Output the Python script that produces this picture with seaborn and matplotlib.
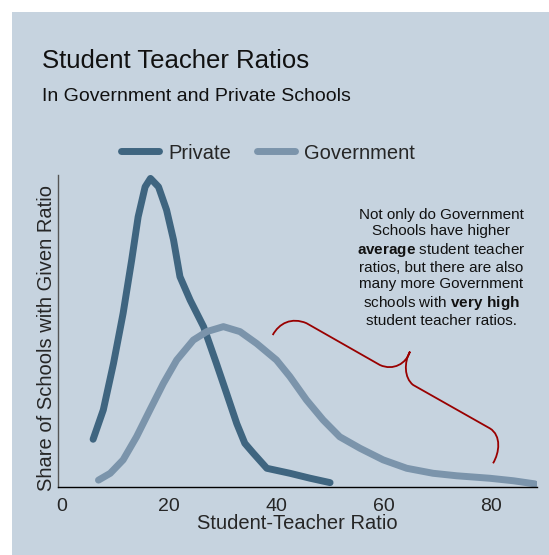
import numpy as np
import pandas as pd
import matplotlib
matplotlib.use("Agg")
import matplotlib.pyplot as plt
import seaborn as sns
from matplotlib.path import Path
from matplotlib.patches import PathPatch, Rectangle
from matplotlib.lines import Line2D

# ---- data ----
private_x = [5.8, 7.7, 9.6, 11.4, 13.0, 14.2, 15.5, 16.5, 18.0, 19.5, 20.8, 22.0,
             23.9, 26.4, 28.8, 30.7, 32.6, 34.1, 35.7, 38.2, 42.5, 46.3, 50.0]
private_y = [0.153, 0.247, 0.396, 0.557, 0.728, 0.866, 0.962, 0.989, 0.962, 0.888,
             0.792, 0.674, 0.599, 0.514, 0.396, 0.300, 0.203, 0.140, 0.108, 0.060,
             0.044, 0.028, 0.014]
gov_x = [6.8, 9.0, 11.4, 13.9, 16.4, 18.9, 21.4, 24.5, 27.0, 30.1, 33.2, 36.3,
         40.0, 42.5, 45.6, 48.7, 51.8, 55.6, 59.9, 64.3, 69.2, 73.6, 79.8, 84.2, 88.2]
gov_y = [0.022, 0.044, 0.087, 0.161, 0.247, 0.332, 0.407, 0.471, 0.498, 0.514,
         0.498, 0.460, 0.407, 0.354, 0.279, 0.215, 0.161, 0.124, 0.087, 0.060,
         0.044, 0.036, 0.028, 0.020, 0.010]
series_names = ["Private", "Government"]
series_colors = ["#3f6580", "#7b94ab"]
xticks = [0, 20, 40, 60, 80]

df = pd.concat([
    pd.DataFrame({"ratio": private_x, "share": private_y, "type": "Private"}),
    pd.DataFrame({"ratio": gov_x, "share": gov_y, "type": "Government"}),
])

sns.set_style("white")
plt.rcParams["font.family"] = ["Liberation Sans", "DejaVu Sans"]
plt.rcParams["mathtext.fontset"] = "custom"
plt.rcParams["mathtext.rm"] = "Liberation Sans"
plt.rcParams["mathtext.bf"] = "Liberation Sans:bold"

fig = plt.figure(figsize=(5.49, 5.55), dpi=100)
fig.patch.set_facecolor("white")
bg = Rectangle((12 / 549, 0), 1 - 12 / 549, 1 - 12 / 555, transform=fig.transFigure,
               facecolor="#c6d3df", edgecolor="none", zorder=-10)
fig.patches.append(bg)

ax = fig.add_axes([58 / 549, 1 - 487 / 555, (537 - 58) / 549, (487 - 175) / 555])
ax.set_facecolor("none")

sns.lineplot(data=df, x="ratio", y="share", hue="type", hue_order=series_names,
             palette=dict(zip(series_names, series_colors)), sort=False,
             linewidth=5, solid_capstyle="round", solid_joinstyle="round",
             ax=ax, legend=False)

ax.set_xlim(-0.75, 88.6)
ax.set_ylim(0, 1)
ax.set_xticks(xticks)
ax.set_xticklabels([str(t) for t in xticks], fontsize=14)
ax.set_yticks([])
ax.tick_params(axis="x", direction="in", length=4, width=0.8, color="#444444", pad=8.2)
for s in ["top", "right"]:
    ax.spines[s].set_visible(False)
ax.spines["bottom"].set_color("black")
ax.spines["bottom"].set_linewidth(1.0)
ax.spines["left"].set_color("#555555")
ax.spines["left"].set_linewidth(1.0)
ax.set_xlabel("Student-Teacher Ratio", fontsize=14.5, labelpad=-1)
ax.set_ylabel("Share of Schools with Given Ratio", fontsize=14.5)
ax.yaxis.set_label_coords(-2 / 479, 0.479)

# legend
handles = [Line2D([], [], color=c, lw=5, solid_capstyle="round") for c in series_colors]
fig.legend(handles, series_names, loc="center", bbox_to_anchor=(268 / 549, 1 - 153 / 555),
           ncol=2, frameon=False, fontsize=14.5, handlelength=1.9, handletextpad=0.45,
           columnspacing=1.3)

# titles
fig.text(42 / 549, 1 - 68 / 555, "Student Teacher Ratios", fontsize=18.5, ha="left",
         va="baseline", color="#111111")
fig.text(42 / 549, 1 - 101 / 555, "In Government and Private Schools", fontsize=14,
         ha="left", va="baseline", color="#111111")

# annotation text
note = ("Not only do Government\n"
        "Schools have higher\n"
        r"$\bf{average}$ student teacher" "\n"
        "ratios, but there are also\n"
        "many more Government\n"
        r"schools with $\bf{very\ high}$" "\n"
        "student teacher ratios.")
fig.text(441 / 549, 1 - 268 / 555, note, fontsize=11, ha="center", va="center",
         multialignment="center", linespacing=1.2, color="#111111")

# curly brace
verts = [(39.3, 0.487),
         (40.5, 0.525), (42.8, 0.545), (45.6, 0.525),
         (59.3, 0.391),
         (61.8, 0.372), (64.2, 0.395), (64.9, 0.434),
         (63.8, 0.40), (63.8, 0.35), (65.5, 0.327),
         (79.8, 0.188),
         (82.0, 0.165), (81.6, 0.11), (80.4, 0.076)]
codes = [Path.MOVETO,
         Path.CURVE4, Path.CURVE4, Path.CURVE4,
         Path.LINETO,
         Path.CURVE4, Path.CURVE4, Path.CURVE4,
         Path.CURVE4, Path.CURVE4, Path.CURVE4,
         Path.LINETO,
         Path.CURVE4, Path.CURVE4, Path.CURVE4]
ax.add_patch(PathPatch(Path(verts, codes), facecolor="none", edgecolor="#990000",
                       lw=1.3, clip_on=False))

fig.savefig("out.png", dpi=100)
